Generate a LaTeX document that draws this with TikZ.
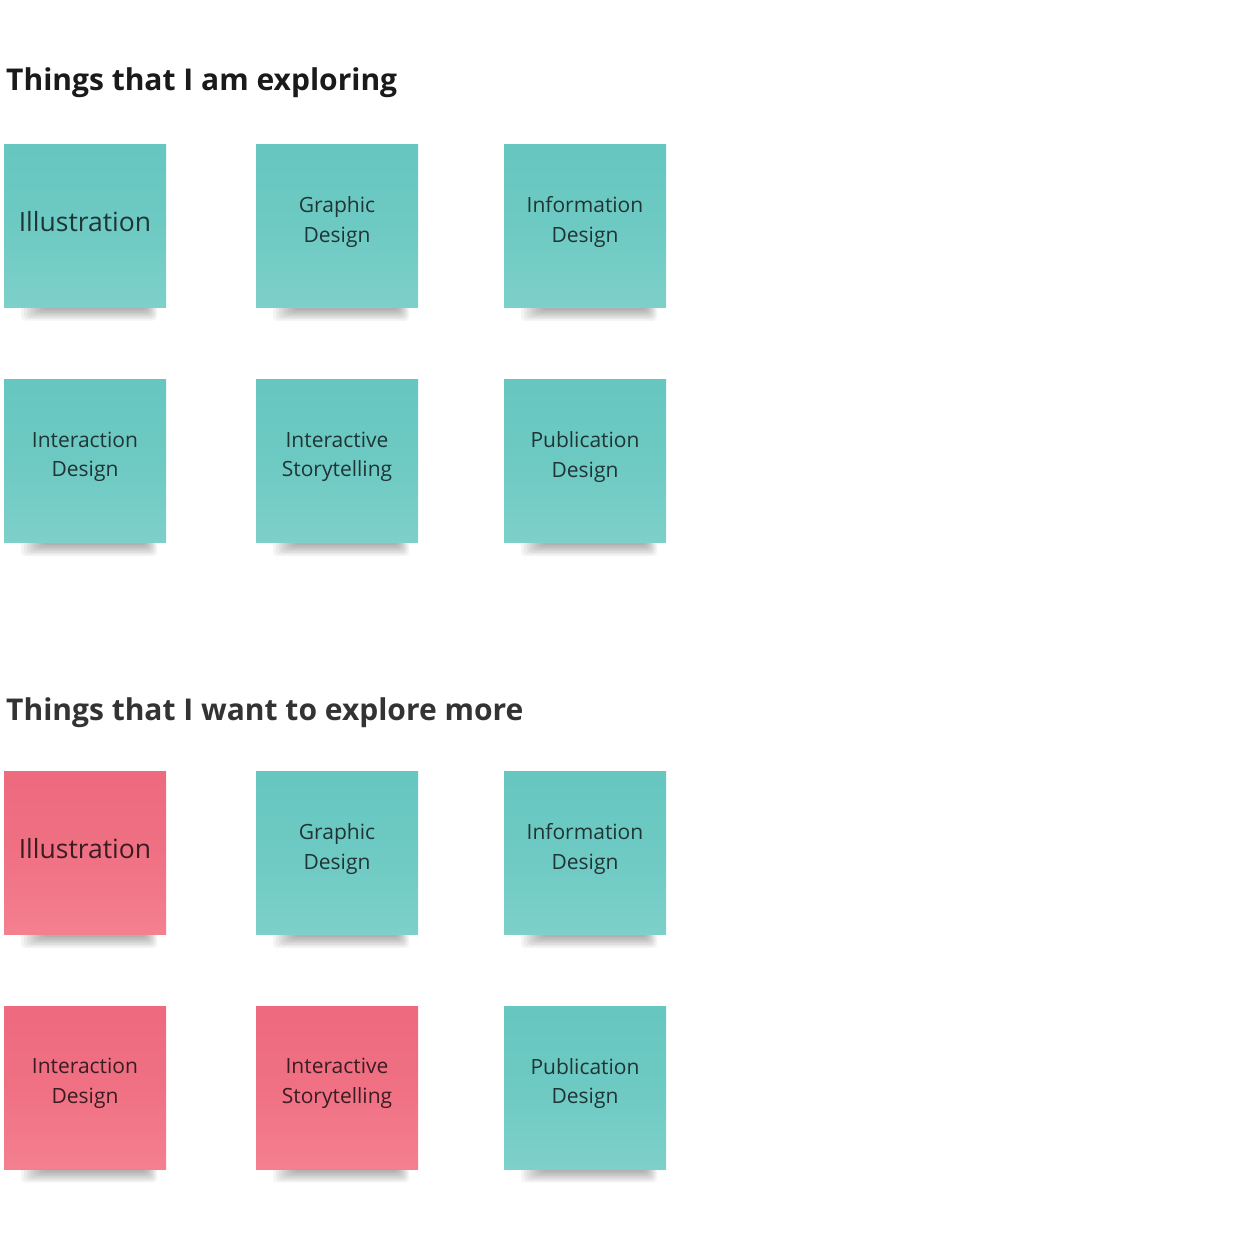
\documentclass[tikz,border=0pt]{standalone}
\usepackage{fontspec}
\setmainfont{Open Sans}
\usetikzlibrary{calc}
\definecolor{tealtop}{HTML}{66C7C0}
\definecolor{tealbot}{HTML}{7ED0CA}
\definecolor{pinktop}{HTML}{EE6A7E}
\definecolor{pinkbot}{HTML}{F4808F}
\definecolor{tealtext}{HTML}{1F3535}
\definecolor{pinktext}{HTML}{3A1C22}
\definecolor{headone}{HTML}{1A1A1A}
\definecolor{headtwo}{HTML}{333333}
\tikzset{
  heading/.style={anchor=base west, inner sep=0pt, font=\bfseries\fontsize{30}{35}\selectfont},
  notebox/.style={minimum width=162pt, minimum height=163pt, inner sep=0pt, shading angle=0},
  tealnote/.style={notebox, top color=tealtop, bottom color=tealbot, middle color=tealtop!70!tealbot},
  pinknote/.style={notebox, top color=pinktop, bottom color=pinkbot, middle color=pinktop!70!pinkbot},
  notetext/.style={align=center, inner sep=0pt, font=\fontsize{21}{29.5}\selectfont},
  bigtext/.style={align=center, inner sep=0pt, font=\fontsize{26.5}{30}\selectfont},
  shadowbit/.style={fill=black, opacity=0.045, rounded corners=4pt}
}
\newcommand\stickynote[6]{% name, cx, cy, style, textstyle, text
  \foreach \i in {0,...,7}{
    \fill[shadowbit] (#2-64+3*\i, #3+78) rectangle (#2+72-1.5*\i, #3+95-1.6*\i);
  }
  \node[#4] (#1) at (#2,#3) {};
  \node[#5] (#1-t) at ($(#2,#3)+(0,-4)$) {#6};
}
\begin{document}
\begin{tikzpicture}[x=1pt,y=-1pt]
\useasboundingbox[fill=white] (0,0) rectangle (1248,1251);
\node[heading, text=headone] (h1) at (6,90) {Things that I am exploring};
\node[heading, text=headtwo] (h2) at (6,720) {Things that I want to explore more};

\stickynote{a1}{85}{225.5}{tealnote}{bigtext, text=tealtext}{Illustration}
\stickynote{a2}{337}{226}{tealnote}{notetext, text=tealtext}{Graphic\\Design}
\stickynote{a3}{585}{226}{tealnote}{notetext, text=tealtext}{Information\\Design}
\stickynote{a4}{85}{461}{tealnote}{notetext, text=tealtext}{Interaction\\Design}
\stickynote{a5}{337}{461}{tealnote}{notetext, text=tealtext}{Interactive\\Storytelling}
\stickynote{a6}{585}{461}{tealnote}{notetext, text=tealtext}{Publication\\Design}

\stickynote{b1}{85}{853}{pinknote}{bigtext, text=pinktext}{Illustration}
\stickynote{b2}{337}{853}{tealnote}{notetext, text=tealtext}{Graphic\\Design}
\stickynote{b3}{585}{853}{tealnote}{notetext, text=tealtext}{Information\\Design}
\stickynote{b4}{85}{1087.5}{pinknote}{notetext, text=pinktext}{Interaction\\Design}
\stickynote{b5}{337}{1087.5}{pinknote}{notetext, text=pinktext}{Interactive\\Storytelling}
\stickynote{b6}{585}{1087.5}{tealnote}{notetext, text=tealtext}{Publication\\Design}
\end{tikzpicture}
\end{document}
